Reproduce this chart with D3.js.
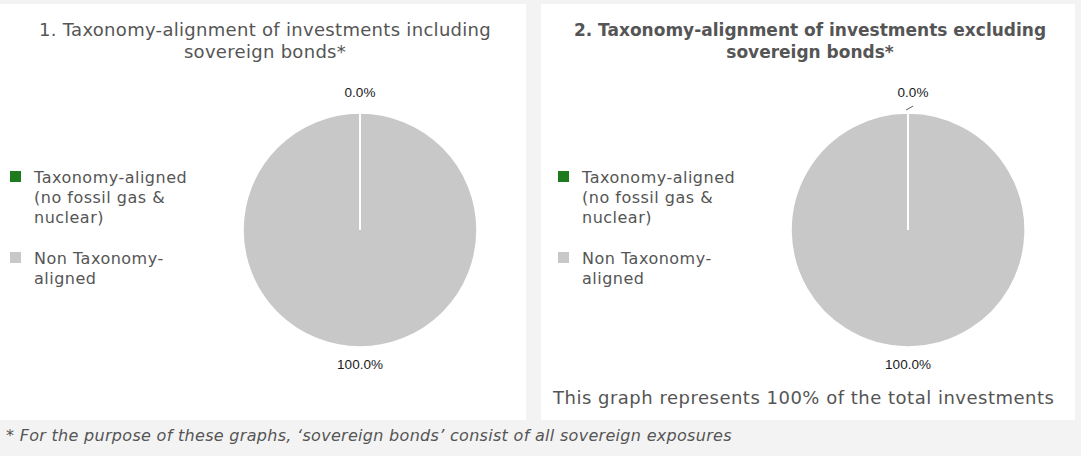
<!DOCTYPE html>
<html>
<head>
<meta charset="utf-8">
<script src="https://cdn.jsdelivr.net/npm/d3@7"></script>
<style>
  body { margin: 0; background: #f3f3f3; }
  svg { display: block; font-family: 'DejaVu Sans', sans-serif; }
</style>
</head>
<body>
<svg id="chart" width="1081" height="456"></svg>
<script>
'use strict';

const categories = ['Taxonomy-aligned (no fossil gas & nuclear)', 'Non Taxonomy-aligned'];
const legendLines = [['Taxonomy-aligned', '(no fossil gas &', 'nuclear)'], ['Non Taxonomy-', 'aligned']];
const colors = ['#1d7a1d', '#c8c8c8'];
const includingValues = [0.0, 100.0];
const excludingValues = [0.02, 99.98];
const titles = [
  ['1. Taxonomy-alignment of investments including', 'sovereign bonds*'],
  ['2. Taxonomy-alignment of investments excluding', 'sovereign bonds*']
];
const note = 'This graph represents 100% of the total investments';
const footnote = '* For the purpose of these graphs, \u2018sovereign bonds\u2019 consist of all sovereign exposures';

const svg = d3.select('#chart');
const textColor = '#555';

const panels = [
  {x: 0, w: 526, values: includingValues, bold: false, leader: false},
  {x: 541, w: 534, values: excludingValues, bold: true, leader: true}
];

const pie = d3.pie().sort(null).value(d => d);
const radius = 117;
const arc = d3.arc().innerRadius(0).outerRadius(radius);
const fmt = d3.format('.1f');

panels.forEach((p, pi) => {
  const g = svg.append('g').attr('transform', `translate(${p.x},4)`);
  g.append('rect').attr('width', p.w).attr('height', 416).attr('fill', '#fff');

  // title
  g.append('text')
    .attr('text-anchor', 'middle')
    .style('font-size', p.bold ? '17px' : '18px')
    .style('letter-spacing', p.bold ? '0px' : '0.3px')
    .style('font-weight', p.bold ? 'bold' : 'normal')
    .attr('fill', textColor)
    .selectAll('tspan')
    .data(titles[pi])
    .enter()
    .append('tspan')
    .attr('x', p.w / 2 + 2)
    .attr('y', (d, i) => 32 + i * 22)
    .text(d => d);

  // legend
  const legend = g.append('g').attr('transform', `translate(${pi ? 17 : 10},0)`);
  const legendY = [167, 248];
  categories.forEach((c, i) => {
    legend.append('rect')
      .attr('x', 0).attr('y', legendY[i])
      .attr('width', 11).attr('height', 11)
      .attr('fill', colors[i]);
    legend.append('text')
      .attr('fill', textColor)
      .style('font-size', '16px')
      .style('letter-spacing', '0.5px')
      .selectAll('tspan')
      .data(legendLines[i])
      .enter()
      .append('tspan')
      .attr('x', 24)
      .attr('y', (d, j) => legendY[i] + 12 + j * 20)
      .text(d => d);
  });

  // pie
  const cx = pi ? 367 : 360, cy = 226;
  const pg = g.append('g').attr('transform', `translate(${cx},${cy})`);
  const arcs = pie(p.values);
  pg.selectAll('path')
    .data(arcs)
    .enter()
    .append('path')
    .attr('d', arc)
    .attr('fill', (d, i) => colors[i])
    .attr('stroke', '#fff')
    .attr('stroke-width', 1.5);
  // white separator at the zero-angle boundary
  pg.append('line')
    .attr('x1', 0).attr('y1', 0)
    .attr('x2', 0).attr('y2', -radius)
    .attr('stroke', '#fff').attr('stroke-width', 2);

  arcs.forEach((d, i) => {
    const mid = (d.startAngle + d.endAngle) / 2;
    let lx = 0, ly = i === 0 ? -radius - 16 : radius + 22;
    if (i === 0 && p.leader) {
      const ex = Math.sin(mid) * radius, ey = -Math.cos(mid) * radius;
      pg.append('polyline')
        .attr('points', [[ex - 2, ey - 3], [ex + 5, ey - 7]].join(' '))
        .attr('fill', 'none').attr('stroke', '#333').attr('stroke-width', 0.8);
      lx = 5;
    }
    pg.append('text')
      .attr('x', lx).attr('y', ly)
      .attr('text-anchor', 'middle')
      .style('font-family', "'Liberation Sans', sans-serif")
      .style('font-size', '13.5px')
      .attr('fill', '#1a1a1a')
      .text(fmt(d.data) + '%');
  });

  if (pi === 1) {
    g.append('text')
      .attr('x', 12).attr('y', 400)
      .attr('fill', textColor)
      .style('font-size', '18px')
      .style('letter-spacing', '0.5px')
      .text(note);
  }
});

svg.append('text')
  .attr('x', 6).attr('y', 441)
  .attr('fill', textColor)
  .style('font-size', '16px')
  .style('letter-spacing', '0.3px')
  .style('font-style', 'italic')
  .text(footnote);
</script>
</body>
</html>
